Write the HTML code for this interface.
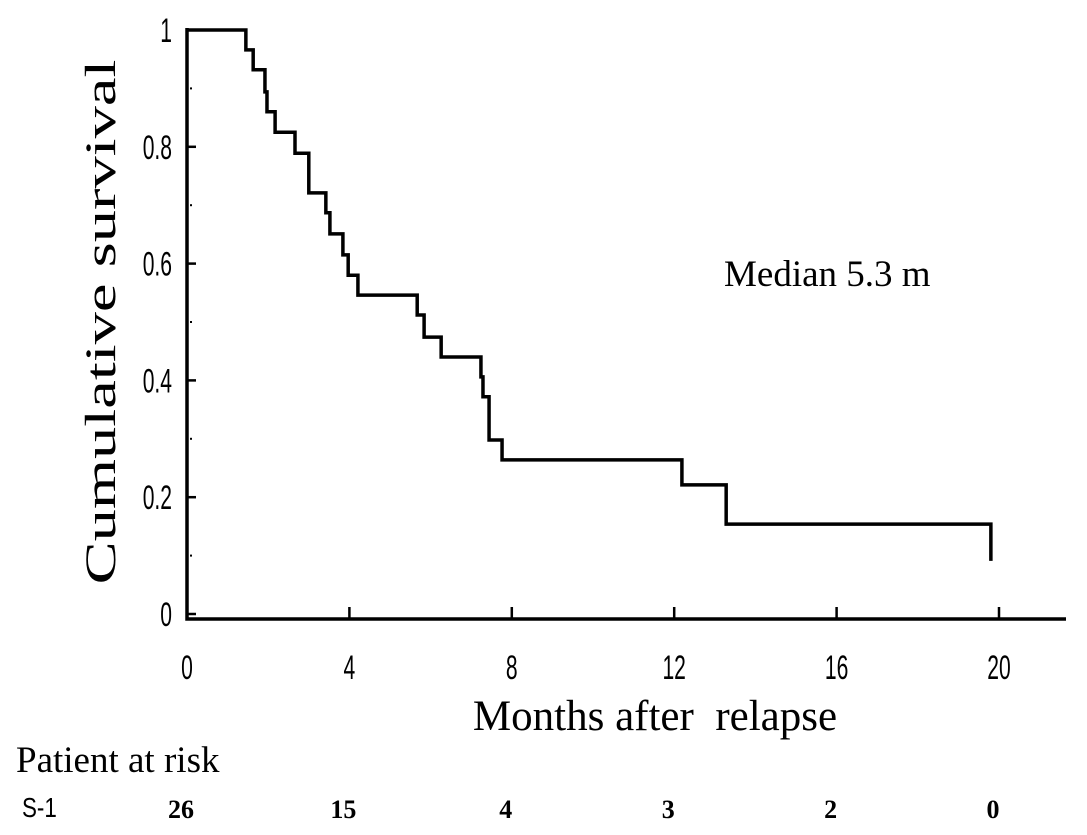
<!DOCTYPE html>
<html><head><meta charset="utf-8"><style>
html,body{margin:0;padding:0;background:#fff;}
svg{display:block;}
.sr{font-family:"Liberation Serif",serif;fill:#000;}
.tk{font-family:"Liberation Sans",sans-serif;fill:#000;}
</style></head><body>
<svg id="chart" width="1087" height="835" viewBox="0 0 1087 835" xmlns="http://www.w3.org/2000/svg">
<g id="axes"></g>
<path id="curve" fill="none" stroke="#000" stroke-width="3.5" stroke-linejoin="miter"/>
<text class="sr" x="0" y="0" font-size="43" text-anchor="middle" transform="translate(115,322) rotate(-90) scale(1.5,1)">Cumulative survival</text>
<text class="sr" x="655" y="730" font-size="43" text-anchor="middle" style="white-space:pre">Months after  relapse</text>
<text class="sr" x="724" y="286" font-size="37">Median 5.3 m</text>
<text class="sr" x="16" y="772" font-size="37">Patient at risk</text>
<text class="tk" x="22" y="817" font-size="28" transform="translate(22,0) scale(0.8,1) translate(-22,0)">S-1</text>
<g id="risk"></g>
</svg>
<script>
const times = [1.45, 1.63, 1.92, 1.97, 2.17, 2.66, 3.00, 3.42, 3.52, 3.84, 3.97, 4.21, 5.67, 5.84, 6.26, 7.24, 7.29, 7.44, 7.76, 12.19, 13.28];
const survival = [0.966, 0.932, 0.894, 0.860, 0.825, 0.789, 0.721, 0.687, 0.651, 0.615, 0.580, 0.546, 0.512, 0.474, 0.440, 0.406, 0.372, 0.298, 0.264, 0.221, 0.154];
const lastTime = 19.80;
const lastValue = 0.091;
const xTicks = [0, 4, 8, 12, 16, 20];
const yTicks = [0, 0.2, 0.4, 0.6, 0.8, 1];
const yTickLabels = ["0", "0.2", "0.4", "0.6", "0.8", "1"];
const atRisk = [26, 15, 4, 3, 2, 0];

const X = m => 187 + 40.6 * m;
const Y = v => 614 - 584 * v;
const NS = "http://www.w3.org/2000/svg";
const axes = document.getElementById('axes');
function mk(tag, attrs, parent) {
  const e = document.createElementNS(NS, tag);
  for (const k in attrs) e.setAttribute(k, attrs[k]);
  parent.appendChild(e);
  return e;
}
let l = mk('path', {d: 'M187,28 L187,619 L1066,619', fill: 'none', stroke: '#000', 'stroke-width': 3.5}, axes);


xTicks.forEach((t, i) => {
  if (i > 0) {
    const tk = mk('line', {x1: X(t), x2: X(t), y1: 619, y2: 607, stroke: '#000', 'stroke-width': 2.5}, axes);
    
    
  }
  const tx = mk('text', {x: X(t), y: 679, 'text-anchor': 'middle', class: 'tk', 'font-size': 34, transform: `translate(${X(t)},0) scale(0.62,1) translate(${-X(t)},0)`}, axes);
  tx.textContent = t;
  
  
});
yTicks.forEach((v, i) => {
  const tk = mk('line', {x1: 187, x2: 196, y1: Y(v), y2: Y(v), stroke: '#000', 'stroke-width': 2.5}, axes);
  
  
  const tx = mk('text', {x: 172, y: Y(v) + 12, 'text-anchor': 'end', class: 'tk', 'font-size': 34, transform: `translate(172,0) scale(0.62,1) translate(-172,0)`}, axes);
  tx.textContent = yTickLabels[i];
  
  
  if (i < yTicks.length - 1) {
    const mn = mk('rect', {x: 190, y: Y(v + 0.1) - 1, width: 2, height: 2, fill: '#000'}, axes);
    
    
  }
});
let d = `M${X(0)},${Y(1)}`;
let prev = 1;
times.forEach((t, i) => {
  d += ` L${X(t)},${Y(prev)} L${X(t)},${Y(survival[i])}`;
  prev = survival[i];
});
d += ` L${X(lastTime)},${Y(prev)} L${X(lastTime)},${Y(lastValue)}`;
document.getElementById('curve').setAttribute('d', d);
const risk = document.getElementById('risk');
atRisk.forEach((n, i) => {
  const tx = mk('text', {x: X(xTicks[i]) - 6, y: 818, 'text-anchor': 'middle', class: 'sr', 'font-size': 26, 'font-weight': 'bold'}, risk);
  tx.textContent = n;
  
  
});
</script>
</body></html>
